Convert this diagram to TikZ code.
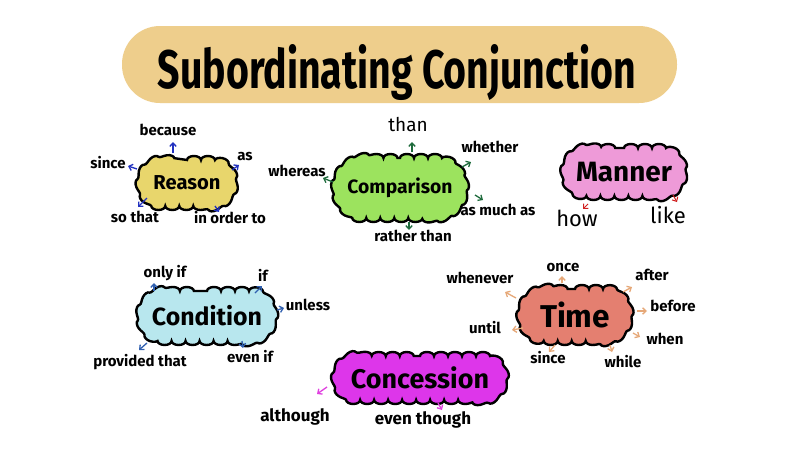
\documentclass[tikz,border=0pt]{standalone}
\usepackage{fontspec}
\setmainfont{Fira Sans}
\usetikzlibrary{shapes.misc,arrows.meta,calc,decorations.pathmorphing}
\definecolor{bannerc}{HTML}{EECE8C}
\definecolor{reasonc}{HTML}{E8D66C}
\definecolor{compc}{HTML}{9CE35E}
\definecolor{mannerc}{HTML}{EE9AD8}
\definecolor{condc}{HTML}{B8E7EE}
\definecolor{timec}{HTML}{E47F70}
\definecolor{concc}{HTML}{DD36EA}
\definecolor{arrreason}{HTML}{2232C0}
\definecolor{arrcomp}{HTML}{1E6B3C}
\definecolor{arrmanner}{HTML}{D02020}
\definecolor{arrcond}{HTML}{3060B0}
\definecolor{arrtime}{HTML}{E6A878}
\definecolor{arrconc}{HTML}{E040E0}
\newcommand\fitw[2]{\resizebox{#1pt}{!}{#2}}
\tikzset{
  cloudbox/.style={rounded rectangle, draw=black, line width=2.4pt, inner sep=0pt,
    font=\bfseries, decorate,
    decoration={bumps, segment length=28pt, amplitude=4pt}},
  lbl/.style={inner sep=1pt, font=\fontsize{15}{16}\selectfont\bfseries},
  arr/.style={-{Straight Barb[length=3.5pt,width=6.5pt]}, line width=1.3pt},
}
\begin{document}
\begin{tikzpicture}[x=1pt,y=-1pt]
\useasboundingbox (0,0) rectangle (800,450);
\fill[white] (0,0) rectangle (800,450);
% banner
\node[fill=bannerc, rounded corners=38pt, minimum width=555pt, minimum height=77pt,
  inner sep=0pt] (banner) at (399.5,64.5) {};
\node[anchor=base, inner sep=0pt] (title) at (397,88)
  {\resizebox{478pt}{44pt}{\bfseries Subordinating Conjunction}};

% Reason
\node[cloudbox, fill=reasonc, minimum width=92pt, minimum height=46pt] (reason) at (187,183) {\fitw{67}{Reason}};
\node[lbl] (because) at (168,130) {because};
\node[lbl] (since) at (108,163) {since};
\node[lbl] (as) at (245,157) {as};
\node[lbl] (sothat) at (135,217) {so that};
\node[lbl] (inorder) at (230,218) {in order to};
\begin{scope}[arr, draw=arrreason]
\draw ($(reason)+(-14,-30)$) -- ($(because)+(5,12)$);
\draw ($(reason)+(-50,-14)$) -- ($(since)+(20,3)$);
\draw ($(reason)+(45,-13)$) -- ($(as)+(-6,8)$);
\draw ($(reason)+(-40,15)$) -- ($(sothat)+(3,-10)$);
\draw ($(reason)+(28,23)$) -- ($(inorder)+(-11,-6)$);
\end{scope}

% Comparison
\node[cloudbox, fill=compc, minimum width=128pt, minimum height=60pt] (comp) at (400,188) {\fitw{105}{Comparison}};
\node[lbl] (whereas) at (297,171) {whereas};
\node[lbl, font=\fontsize{19}{20}\selectfont] (than) at (408,125) {than};
\node[lbl] (whether) at (490,147) {whether};
\node[lbl] (asmuch) at (498,210) {as much as};
\node[lbl] (rather) at (413,236) {rather than};
\begin{scope}[arr, draw=arrcomp]
\draw ($(comp)+(-67,-6)$) -- ($(whereas)+(26,7)$);
\draw ($(comp)+(12,-36)$) -- ($(than)+(4,17)$);
\draw ($(comp)+(62,-21)$) -- ($(whether)+(-19,15)$);
\draw ($(comp)+(75,7)$) -- ($(asmuch)+(-15,-10)$);
\draw ($(comp)+(9,34)$) -- ($(rather)+(-4,-6)$);
\end{scope}

% Manner
\node[cloudbox, fill=mannerc, minimum width=117pt, minimum height=48pt] (manner) at (624,172) {\fitw{96}{Manner}};
\node[lbl, font=\fontsize{22}{24}\selectfont] (how) at (577,218) {how};
\node[lbl, font=\fontsize{22}{24}\selectfont] (like) at (668,215) {like};
\begin{scope}[arr, draw=arrmanner, line width=1pt]
\draw ($(manner)+(-36,32)$) -- ($(how)+(6,-9)$);
\draw ($(manner)+(49,23)$) -- ($(like)+(9,-13)$);
\end{scope}

% Condition
\node[cloudbox, fill=condc, minimum width=132pt, minimum height=50pt] (cond) at (207,316) {\fitw{110}{Condition}};
\node[lbl] (onlyif) at (165,273) {only if};
\node[lbl] (if) at (263,275) {if};
\node[lbl] (unless) at (308,305) {unless};
\node[lbl] (provided) at (140,362) {provided that};
\node[lbl] (evenif) at (250,357) {even if};
\begin{scope}[arr, draw=arrcond]
\draw ($(cond)+(-53,-25)$) -- ($(onlyif)+(-11,10)$);
\draw ($(cond)+(48,-23)$) -- ($(if)+(-1,11)$);
\draw ($(cond)+(70,-6)$) -- ($(unless)+(-24,3)$);
\draw ($(cond)+(-60,27)$) -- ($(provided)+(-1,-12)$);
\draw ($(cond)+(35,25)$) -- ($(evenif)+(-7,-9)$);
\end{scope}

% Time
\node[cloudbox, fill=timec, minimum width=107pt, minimum height=52pt] (time) at (575,315) {\fitw{70}{Time}};
\node[lbl] (once) at (563,268) {once};
\node[lbl] (whenever) at (480,278) {whenever};
\node[lbl] (after) at (652,275) {after};
\node[lbl] (before) at (673,306) {before};
\node[lbl] (when) at (665,339) {when};
\node[lbl] (until) at (485,328) {until};
\node[lbl] (since2) at (548,358) {since};
\node[lbl] (while) at (623,362) {while};
\begin{scope}[arr, draw=arrtime]
\draw ($(time)+(-13,-32)$) -- ($(once)+(-1,8)$);
\draw ($(time)+(-59,-17)$) -- ($(whenever)+(25,14)$);
\draw ($(time)+(48,-23)$) -- ($(after)+(-20,12)$);
\draw ($(time)+(62,-4)$) -- ($(before)+(-26,5)$);
\draw ($(time)+(58,18)$) -- ($(when)+(-25,-2)$);
\draw ($(time)+(-52,13)$) -- ($(until)+(27,2)$);
\draw ($(time)+(-20,30)$) -- ($(since2)+(1,-6)$);
\draw ($(time)+(35,30)$) -- ($(while)+(-11,-10)$);
\end{scope}

% Concession
\node[cloudbox, fill=concc, minimum width=167pt, minimum height=44pt] (conc) at (420,378) {\fitw{138}{Concession}};
\node[lbl, font=\fontsize{17}{18}\selectfont\bfseries] (although) at (295,417) {although};
\node[lbl, font=\fontsize{17}{18}\selectfont\bfseries] (eventhough) at (423,420) {even though};
\begin{scope}[arr, draw=arrconc]
\draw ($(conc)+(-93,9)$) -- ($(although)+(22,-23)$);
\draw ($(conc)+(18,25)$) -- ($(eventhough)+(19,-10)$);
\end{scope}
\end{tikzpicture}
\end{document}
